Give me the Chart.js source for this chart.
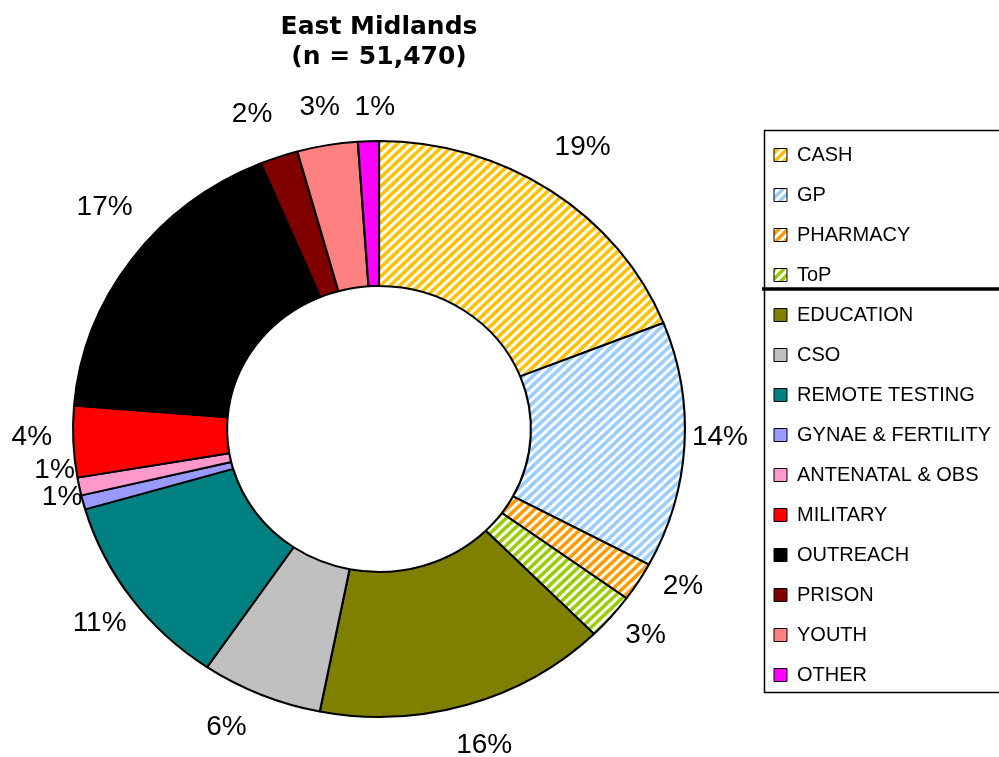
<!DOCTYPE html>
<html>
<head>
<meta charset="utf-8">
<script src="https://cdn.jsdelivr.net/npm/chart.js@4.4.1/dist/chart.umd.min.js"></script>
<style>
html,body{margin:0;padding:0;background:#fff;overflow:hidden}
#wrap{width:999px;height:757px;position:relative}
</style>
</head>
<body>
<div id="wrap"><canvas id="c"></canvas></div>
<script>
// ---- data ----
const titleLines = ['East Midlands', '(n = 51,470)'];
const categories = ['CASH','GP','PHARMACY','ToP','EDUCATION','CSO','REMOTE TESTING','GYNAE & FERTILITY','ANTENATAL & OBS','MILITARY','OUTREACH','PRISON','YOUTH','OTHER'];
const shares = [19.0, 13.8, 2.2, 2.6, 15.5, 6.4, 11.0, 0.8, 1.0, 4.0, 17.4, 2.0, 3.2, 1.1];
const colors = ['#FFC000','#99CCFF','#FF9900','#99CC00','#808000','#C0C0C0','#008080','#9999FF','#FF99CC','#FF0000','#000000','#800000','#FF8080','#FF00FF'];
const hatched = [true,true,true,true,false,false,false,false,false,false,false,false,false,false];

// ---- styling helpers ----
const X_STRETCH = 1.0623;      // the reference ring is slightly wider than tall
const LABEL_RADIUS = 1.149;    // label distance as a multiple of the outer radius
const labelNudge = [[6,-8],[-10,-10],[6,-18],[0,-9],[4,-1],[-17,-7],[5,0],[23,-16],[20,-25],[4,-6],[10,-27],[-12,-2],[0,4],[8,9]];

const canvas = document.getElementById('c');
const ctx0 = canvas.getContext('2d');
function hatch(color){
  const s = 9;
  const c = document.createElement('canvas');
  c.width = s; c.height = s;
  const x = c.getContext('2d');
  x.fillStyle = '#fff'; x.fillRect(0,0,s,s);
  x.strokeStyle = color; x.lineWidth = 3.4; x.lineCap = 'square';
  x.beginPath();
  x.moveTo(-3, s+3); x.lineTo(s+3, -3);
  x.moveTo(-3, 3); x.lineTo(3, -3);
  x.moveTo(s-3, s+3); x.lineTo(s+3, s-3);
  x.stroke();
  return ctx0.createPattern(c, 'repeat');
}
const fills = colors.map((c,i) => hatched[i] ? hatch(c) : c);

const stretchPlugin = {
  id: 'stretch',
  beforeDatasetsDraw(chart){
    const a = chart.chartArea;
    const cx = (a.left + a.right)/2, cy = (a.top + a.bottom)/2;
    const ctx = chart.ctx;
    ctx.save();
    ctx.translate(cx, cy); ctx.scale(X_STRETCH, 1); ctx.translate(-cx, -cy);
  },
  afterDatasetsDraw(chart){ chart.ctx.restore(); }
};

const legendPlacePlugin = {
  id: 'legendPlace',
  afterLayout(chart){
    const l = chart.legend;
    if (!l) return;
    l.left -= 4; l.right -= 4;
    l.top += 125; l.bottom += 125;
  },
  afterDraw(chart){
    const l = chart.legend;
    const ctx = chart.ctx;
    ctx.save();
    ctx.strokeStyle = '#000';
    ctx.lineWidth = 1.5;
    ctx.strokeRect(l.left + 10.5, l.top + 5.5, 300, 562);
    ctx.lineWidth = 3.5;
    ctx.beginPath();
    ctx.moveTo(l.left + 8, l.top + 164); ctx.lineTo(1000, l.top + 164);
    ctx.stroke();
    ctx.restore();
  }
};

const labelPlugin = {
  id: 'sliceLabels',
  afterDraw(chart){
    const meta = chart.getDatasetMeta(0);
    const ctx = chart.ctx;
    const total = shares.reduce((a,b)=>a+b,0);
    ctx.save();
    ctx.font = '28px "Liberation Sans", Arial, sans-serif';
    ctx.fillStyle = '#000';
    ctx.textAlign = 'center';
    ctx.textBaseline = 'middle';
    meta.data.forEach((arc,i) => {
      const p = arc.getProps(['x','y','startAngle','endAngle','outerRadius'], true);
      const mid = (p.startAngle + p.endAngle)/2;
      const r = p.outerRadius * LABEL_RADIUS;
      const px = p.x + Math.cos(mid)*r*X_STRETCH + labelNudge[i][0];
      const py = p.y + Math.sin(mid)*r + labelNudge[i][1];
      ctx.fillText(Math.round(shares[i]/total*100) + '%', px, py);
    });
    ctx.restore();
  }
};

new Chart(canvas, {
  type: 'doughnut',
  data: {
    labels: categories,
    datasets: [{
      data: shares,
      backgroundColor: fills,
      borderColor: '#000',
      borderWidth: 2,
      borderAlign: 'center',
      hoverOffset: 0,
      clip: false
    }]
  },
  options: {
    responsive: true,
    maintainAspectRatio: false,
    animation: false,
    cutout: 143,
    layout: { padding: { top: 0, left: 0, right: 0, bottom: 39 } },
    plugins: {
      title: {
        display: true,
        text: titleLines,
        fullSize: false,
        color: '#000',
        font: { family: '"DejaVu Sans", Arial, sans-serif', size: 25, weight: 'bold', lineHeight: 1.22 },
        padding: { top: 12, bottom: 67 }
      },
      legend: {
        display: true,
        position: 'right',
        align: 'start',
        maxWidth: 241,
        labels: {
          color: '#000',
          font: { family: '"Liberation Sans", Arial, sans-serif', size: 20 },
          boxWidth: 13,
          boxHeight: 13,
          padding: 20,
          generateLabels(chart){
            const items = Chart.overrides.doughnut.plugins.legend.labels.generateLabels(chart);
            items.forEach(it => { it.lineWidth = 1; it.strokeStyle = '#000'; });
            return items;
          }
        }
      },
      tooltip: { enabled: false }
    }
  },
  plugins: [stretchPlugin, legendPlacePlugin, labelPlugin]
});
</script>
</body>
</html>
